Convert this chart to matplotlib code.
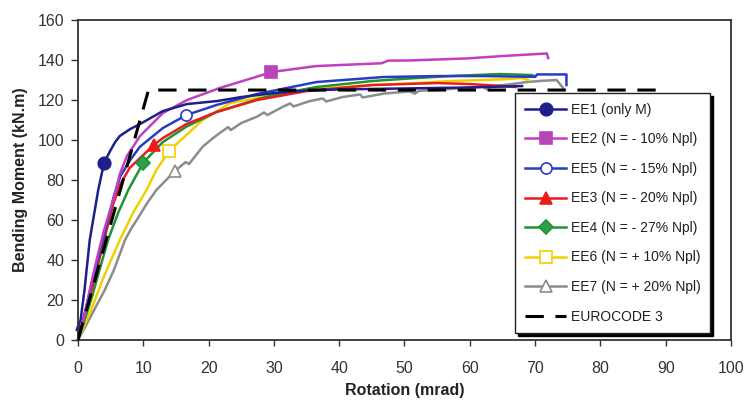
"""Moment-rotation curves of the end-plate joints EE1..EE7 against the EC3 bilinear model."""

import matplotlib
matplotlib.use("Agg")
import matplotlib.pyplot as plt
from matplotlib.lines import Line2D

plt.rcParams["font.family"] = ["Liberation Sans", "DejaVu Sans"]

# --- test curves: rotation (mrad), bending moment (kN.m) ---------------------
ee1_rot = [0, 0.3, -0.2, 0.4, 1.0, 1.8, 3.1, 4.0, 5.0, 5.7, 6.4, 8.0, 9.5, 13.0,
           16.7, 21.3, 25.0, 30.0, 35.0, 40.0, 50.0, 60.0, 68.0]
ee1_mom = [0, 7, 5, 10, 25, 50, 75, 88.7, 95, 99, 102, 105.5, 108, 114.5,
           118, 119.5, 121.5, 123.5, 124.8, 125.3, 125.8, 126.3, 127]

ee2_rot = [0, 1.0, 2.0, 3.0, 4.0, 5.4, 6.4, 7.5, 9.5, 13.0, 16.7, 21.7, 27.4,
           29.6, 36.5, 46.5, 47.5, 50.8, 59.5, 65.0, 71.8, 72.0]
ee2_mom = [0, 12, 28, 42, 55, 70, 83, 92, 102, 113.5, 120, 126, 131.7,
           134, 137, 138.4, 139.7, 139.8, 140.8, 142, 143.3, 141]

ee5_rot = [0, 1.0, 2.0, 3.8, 5.5, 6.5, 8.0, 9.5, 13.0, 16.6, 21.2, 27.4, 36.5,
           46.7, 55.0, 62.0, 70.0, 70.3, 74.8, 74.8]
ee5_mom = [0, 13, 27, 50, 72, 82, 90, 96.7, 106, 112.5, 117.5, 123, 129,
           131.5, 132, 132, 131.6, 132.8, 132.8, 127.5]

ee3_rot = [0, 1.0, 2.5, 4.0, 5.4, 6.5, 7.9, 9.5, 11.6, 13.0, 16.6, 21.2, 27.4,
           35.0, 45.0, 55.0, 60.0, 65.0, 67.0]
ee3_mom = [0, 12, 30, 50, 68, 78, 86, 91, 97.5, 101, 108, 114, 120,
           124.5, 127.5, 128.5, 128, 127, 126.5]

ee4_rot = [0, 2.0, 4.6, 6.2, 7.7, 10.0, 13.0, 16.6, 21.2, 27.4, 30.0, 36.5,
           45.0, 50.8, 57.0, 64.6, 69.5, 70.0]
ee4_mom = [0, 20, 50, 64, 75, 88.7, 99, 106.7, 114, 120.3, 122.5, 126.5,
           129.5, 130.8, 132, 133, 132.5, 131.8]

ee6_rot = [0, 2.0, 4.0, 6.4, 8.5, 10.5, 12.0, 14.0, 19.1, 23.3, 27.4, 30.0,
           36.5, 45.0, 50.8, 57.0, 64.6, 68.0, 69.0]
ee6_mom = [0, 15, 32, 50, 64, 75, 85, 94.7, 110, 118.5, 121, 123,
           125.5, 127.5, 128.3, 129.5, 130.3, 131, 130]

ee7_rot = [0, 1.5, 2.8, 4.1, 5.5, 7.2, 8.2, 9.0, 10.5, 12.0, 13.5, 14.9, 16.5,
           17.0, 19.1, 20.5, 21.7, 23.0, 23.4, 25.0, 27.4, 28.5, 29.0, 31.4,
           32.5, 33.0, 35.5, 37.5, 38.0, 40.5, 43.2, 43.6, 47.0, 50.8, 51.6,
           52.2, 56.0, 62.0, 62.6, 63.2, 66.0, 68.7, 71.0, 73.3, 74.3]
ee7_mom = [0, 9, 17, 25, 35, 50, 56, 60, 68, 75, 80, 84.7, 89,
           88, 96.7, 100.5, 103.5, 106.5, 105, 108.5, 111.7, 113.8, 112.5, 116.7,
           118.3, 116.8, 119.5, 120.8, 119.3, 121.5, 122.8, 121.3, 123.3, 124.3, 123.2,
           124.6, 125.3, 126.7, 125.4, 126.8, 127.8, 129, 129.6, 130, 126]

# --- EUROCODE 3 bilinear model ---------------------------------------------
ec3_rot = [0, 10.8, 90.0]
ec3_mom = [0, 125, 125]

labels = ["EE1 (only M)", "EE2 (N = - 10% Npl)", "EE5 (N = - 15% Npl)",
          "EE3 (N = - 20% Npl)", "EE4 (N = - 27% Npl)", "EE6 (N = + 10% Npl)",
          "EE7 (N = + 20% Npl)", "EUROCODE 3"]

# colour, marker, marker face, marker size, index of the marked point
styles = [
    ("#1f1f8c", "o", "#1f1f8c", 9, 7),
    ("#c040c0", "s", "#b548b5", 8, 13),
    ("#2a3cc0", "o", "white", 8, 9),
    ("#ec1c1c", "^", "#ec1c1c", 9, 8),
    ("#1f9434", "D", "#2aa050", 7, 5),
    ("#f2d000", "s", "white", 9, 7),
    ("#8c8c8c", "^", "white", 8, 11),
]

series = [(ee1_rot, ee1_mom), (ee2_rot, ee2_mom), (ee5_rot, ee5_mom),
          (ee3_rot, ee3_mom), (ee4_rot, ee4_mom), (ee6_rot, ee6_mom),
          (ee7_rot, ee7_mom)]

fig = plt.figure(figsize=(7.49, 4.01), dpi=100)
ax = fig.add_axes([0.1041, 0.152, 0.8719, 0.798])

# grey first so the others sit on top
order = [6, 5, 4, 3, 2, 1, 0]
handles = [None] * 8
for i in order:
    col, mk, face, ms, idx = styles[i]
    x, y = series[i]
    ax.plot(x, y, color=col, lw=1.8, clip_on=False, zorder=2)
    ax.plot([x[idx]], [y[idx]], ls="none", marker=mk, ms=ms, mfc=face,
            mec=col, mew=1.2, zorder=3)
    handles[i] = Line2D([], [], color=col, lw=1.8, marker=mk, ms=ms,
                        mfc=face, mec=col, mew=1.2)

ax.plot(ec3_rot, ec3_mom, color="black", lw=2.2, dashes=(6, 3.8), zorder=4)
handles[7] = Line2D([], [], color="black", lw=2.2, dashes=(6, 3.8))

ax.set_xlim(0, 100)
ax.set_ylim(0, 160)
ax.set_xticks(range(0, 101, 10))
ax.set_yticks(range(0, 161, 20))
ax.tick_params(axis="x", direction="out", length=4, width=1, pad=11,
               labelsize=11.5, colors="#333333")
ax.tick_params(axis="y", direction="out", length=5, width=1, pad=5,
               labelsize=11.5, colors="#333333")
for sp in ax.spines.values():
    sp.set_color("#333333")
    sp.set_linewidth(1.3)

ax.set_xlabel("Rotation (mrad)", fontsize=11.5, fontweight="bold",
              color="#222222", labelpad=5)
ax.set_ylabel("Bending Moment (kN.m)", fontsize=11.5, fontweight="bold",
              color="#222222", labelpad=7)

leg = ax.legend(handles, labels, loc="upper left",
                bbox_to_anchor=(515 / 749, 1 - 93 / 401),
                bbox_transform=fig.transFigure, borderaxespad=0,
                fontsize=10, numpoints=1, handlelength=3.0, handletextpad=0.3,
                labelspacing=1.12, borderpad=0.7, fancybox=False,
                shadow={"color": "black", "alpha": 1.0}, framealpha=1)
leg.get_frame().set_edgecolor("#222222")
leg.get_frame().set_linewidth(1.0)
leg.set_zorder(10)
for t in leg.get_texts():
    t.set_color("#222222")

fig.savefig("out.png", dpi=100)
